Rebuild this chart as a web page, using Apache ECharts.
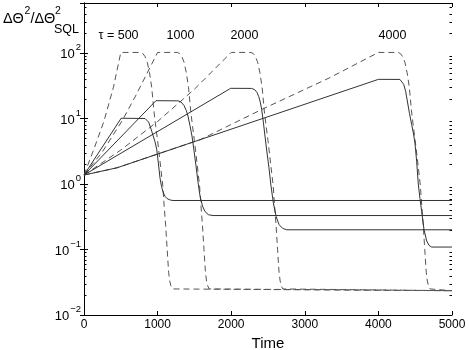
<!DOCTYPE html>
<html>
<head>
<meta charset="utf-8">
<script src="https://cdn.jsdelivr.net/npm/echarts@6/dist/echarts.min.js"></script>
<style>
  html, body { margin: 0; padding: 0; background: #fff; }
  #chart { width: 469px; height: 350px; }
</style>
</head>
<body>
<div id="chart"></div>
<script>
// values: [time, ΔΘ²/ΔΘ²_SQL]
const tauLabels = ["\u03c4 = 500", "1000", "2000", "4000"];
const tauLabelTime = [469, 1311, 2181, 4191];
const tauLabelLevel = 182;

const dashed500 = [[0, 1.37], [130, 3.3], [270, 9.0], [400, 30], [500, 102], [770, 102], [800, 98], [830, 88], [860, 72], [890, 50], [920, 30], [950, 13], [975, 7.5], [1000, 4.6], [1035, 2.1], [1070, 0.95], [1090, 0.45], [1110, 0.23], [1130, 0.1], [1150, 0.045], [1165, 0.033], [1180, 0.028], [1200, 0.025], [1220, 0.0235], [5000, 0.0235]];
const dashed1000 = [[0, 1.37], [250, 3.1], [516, 9.15], [700, 22], [1000, 102], [1270, 102], [1300, 98], [1330, 88], [1360, 72], [1390, 50], [1420, 30], [1450, 13], [1475, 7.5], [1500, 4.6], [1535, 2.1], [1570, 0.95], [1590, 0.45], [1610, 0.23], [1630, 0.1], [1650, 0.045], [1665, 0.033], [1680, 0.028], [1700, 0.025], [1720, 0.0235], [5000, 0.0235]];
const dashed2000 = [[0, 1.37], [500, 3.3], [1000, 9.0], [1500, 28], [2000, 102], [2270, 102], [2300, 98], [2330, 88], [2360, 72], [2390, 50], [2420, 30], [2450, 13], [2475, 7.5], [2500, 4.6], [2535, 2.1], [2570, 0.95], [2590, 0.45], [2610, 0.23], [2630, 0.1], [2650, 0.045], [2665, 0.033], [2680, 0.028], [2700, 0.025], [2720, 0.0235], [5000, 0.0235]];
const dashed4000 = [[0, 1.37], [450, 1.77], [1000, 2.87], [1580, 4.75], [2430, 14], [3340, 42], [4000, 102], [4270, 102], [4300, 98], [4330, 88], [4360, 72], [4390, 50], [4420, 30], [4450, 13], [4475, 7.5], [4500, 4.6], [4535, 2.1], [4570, 0.95], [4590, 0.45], [4610, 0.23], [4630, 0.1], [4650, 0.045], [4665, 0.033], [4680, 0.028], [4700, 0.025], [4720, 0.0235], [5000, 0.0235]];

const solid500 = [[0, 1.37], [505, 10.1], [829, 10.0], [855, 9.6], [878, 8.8], [897, 7.7], [920, 6.4], [940, 5.4], [965, 4.4], [988, 3.4], [1010, 2.1], [1033, 1.23], [1053, 0.92], [1073, 0.76], [1100, 0.65], [1128, 0.6], [1170, 0.57], [1209, 0.56], [5000, 0.56]];
const solid1000 = [[0, 1.37], [978, 18.7], [1277, 18.6], [1320, 17.8], [1359, 15.8], [1390, 13.2], [1413, 10.9], [1440, 7.8], [1467, 5.4], [1495, 3.2], [1522, 1.88], [1550, 1.05], [1576, 0.66], [1610, 0.46], [1644, 0.38], [1690, 0.34], [1753, 0.33], [5000, 0.33]];
const solid2000 = [[0, 1.37], [1993, 28.9], [2278, 28.8], [2320, 27.5], [2350, 25], [2375, 21.5], [2395, 17.8], [2414, 13.8], [2437, 8.8], [2459, 5.4], [2485, 3.1], [2513, 1.77], [2540, 0.95], [2572, 0.52], [2610, 0.32], [2650, 0.24], [2700, 0.21], [2754, 0.2], [5000, 0.2]];
const solid4000 = [[0, 1.37], [450, 1.77], [4000, 39.6], [4293, 39.5], [4320, 37.5], [4345, 33], [4370, 26], [4393, 18.5], [4422, 12], [4452, 8.1], [4475, 6], [4497, 4.2], [4520, 2.2], [4542, 1.0], [4565, 0.6], [4588, 0.38], [4620, 0.2], [4656, 0.135], [4690, 0.115], [4724, 0.109], [5000, 0.109]];

const yMin = 0.01;
const yMax = 580;
const FONT = '"Liberation Sans", Arial, sans-serif';

const dashedSets = [dashed500, dashed1000, dashed2000, dashed4000];
const solidSets = [solid500, solid1000, solid2000, solid4000];

// minor ticks of the log axis at 2..9 x 10^k
const minorTicks = [];
for (let k = -2; k <= 2; k++) {
  for (let m = 2; m <= 9; m++) {
    const v = m * Math.pow(10, k);
    if (v < yMax) minorTicks.push([0, v]);
  }
}

const chart = echarts.init(document.getElementById("chart"));

const lineSeries = (data, dashed) => ({
  type: "line",
  data: data,
  symbol: "none",
  silent: true,
  lineStyle: dashed
    ? { color: "#555", width: 1, type: [6, 4] }
    : { color: "#333", width: 1 },
});

function yLabel(value) {
  const e = Math.log10(value);
  const r = Math.round(e);
  if (Math.abs(e - r) > 1e-6) return "";
  const exp = r < 0 ? "\u2212" + -r : String(r);
  return "{b|10}{e|" + exp + "}";
}

const option = {
  animation: false,
  backgroundColor: "#fff",
  grid: { left: 84, right: 17, top: 3, bottom: 35, containLabel: false, outerBoundsMode: "none" },
  xAxis: [
    {
      type: "value",
      min: 0,
      max: 5000,
      interval: 1000,
      name: "Time",
      nameLocation: "middle",
      nameGap: 17,
      nameTextStyle: { fontSize: 15, color: "#000", fontFamily: FONT },
      axisLine: { show: true, lineStyle: { color: "#000", width: 1 } },
      axisTick: { inside: true, length: 4, lineStyle: { color: "#000" } },
      axisLabel: { margin: 4, fontSize: 12, color: "#000", fontFamily: FONT, formatter: v => String(v) },
      splitLine: { show: false },
    },
    {
      type: "value",
      position: "top",
      min: 0,
      max: 5000,
      interval: 1000,
      axisLine: { show: true, lineStyle: { color: "#000", width: 1 } },
      axisTick: { inside: true, length: 4, lineStyle: { color: "#000" } },
      axisLabel: { show: false },
      splitLine: { show: false },
    },
  ],
  yAxis: [
    {
      type: "log",
      logBase: 10,
      min: yMin,
      max: yMax,
      axisLine: { show: true, lineStyle: { color: "#000", width: 1 } },
      axisTick: { inside: true, length: 4, lineStyle: { color: "#000" } },
      axisLabel: {
        margin: 3,
        color: "#000",
        fontFamily: FONT,
        formatter: yLabel,
        rich: {
          b: { fontSize: 13, fontFamily: FONT, color: "#000", padding: [3, 0, 0, 0] },
          e: { fontSize: 9.5, fontFamily: FONT, color: "#000", padding: [0, 0, 11, 1] },
        },
      },
      splitLine: { show: false },
    },
    {
      type: "log",
      logBase: 10,
      position: "right",
      min: yMin,
      max: yMax,
      axisLine: { show: true, lineStyle: { color: "#000", width: 1 } },
      axisTick: { inside: true, length: 4, lineStyle: { color: "#000" } },
      axisLabel: { show: false },
      splitLine: { show: false },
    },
  ],
  series: [
    ...dashedSets.map(d => lineSeries(d, true)),
    ...solidSets.map(d => lineSeries(d, false)),
    {
      type: "custom",
      silent: true,
      data: minorTicks,
      renderItem: (params, api) => {
        const v = api.value(1);
        const pl = api.coord([0, v]);
        const pr = api.coord([5000, v]);
        const y = Math.round(pl[1]) + 0.5;
        return {
          type: "group",
          children: [
            { type: "line", shape: { x1: pl[0], y1: y, x2: pl[0] + 2.5, y2: y }, style: { stroke: "#000", lineWidth: 1 } },
            { type: "line", shape: { x1: pr[0], y1: y, x2: pr[0] - 2.5, y2: y }, style: { stroke: "#000", lineWidth: 1 } },
          ],
        };
      },
    },
  ],
};

chart.setOption(option);

// τ labels placed in data coordinates, plus the y title
const graphics = tauLabels.map((txt, i) => {
  const p = chart.convertToPixel({ gridIndex: 0 }, [tauLabelTime[i], tauLabelLevel]);
  return {
    type: "text",
    x: p[0],
    y: p[1],
    style: { text: txt, font: "12.5px " + FONT, fill: "#000", align: "center", verticalAlign: "middle" },
  };
});
const titleParts = [
  { text: "\u0394\u0398", x: 3, y: 19, size: 14.5 },
  { text: "2", x: 24.5, y: 11, size: 10.5 },
  { text: "/\u0394\u0398", x: 30.5, y: 19, size: 14.5 },
  { text: "2", x: 55, y: 11, size: 10.5 },
  { text: "SQL", x: 54, y: 29.5, size: 12.5 },
];
titleParts.forEach(t => {
  graphics.push({
    type: "text",
    x: t.x,
    y: t.y,
    style: { text: t.text, font: t.size + "px " + FONT, fill: "#000", align: "left", verticalAlign: "middle" },
  });
});
chart.setOption({ graphic: graphics });
</script>
</body>
</html>
